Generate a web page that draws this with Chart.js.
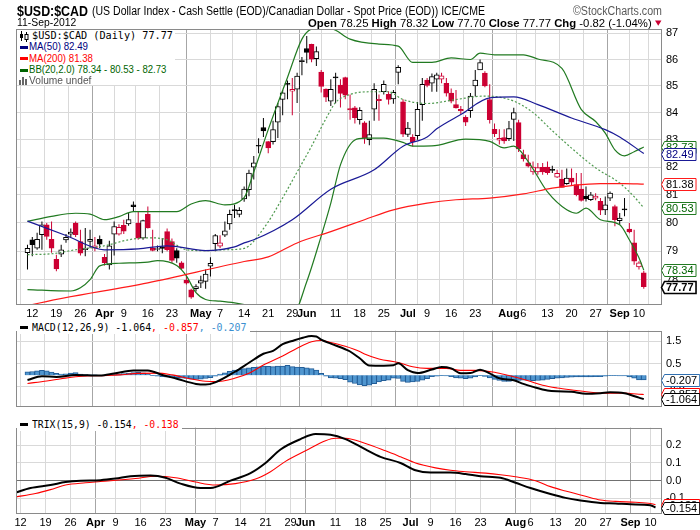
<!DOCTYPE html>
<html>
<head>
<meta charset="utf-8">
<title>$USD:$CAD</title>
<script src="https://cdn.jsdelivr.net/npm/chart.js@4.4.1/dist/chart.umd.min.js"></script>
<style>
html,body{margin:0;padding:0;background:#fff;}
body{position:relative;width:700px;height:530px;overflow:hidden;}
canvas{position:absolute;left:0;}
.t{position:absolute;white-space:nowrap;transform-origin:0 50%;}
.box{position:absolute;background:#fff;}
.dash{position:absolute;height:3px;width:8px;}
</style>
</head>
<body>
<canvas id="cMain" width="700" height="320" style="top:0px"></canvas>
<canvas id="cMacd" width="700" height="97" style="top:320px"></canvas>
<canvas id="cTrix" width="700" height="113" style="top:417px"></canvas>
<script>
// ---------------- DATA ----------------
const dates = [
 'Mar 9','Mar 12','Mar 13','Mar 14','Mar 15','Mar 16','Mar 19','Mar 20','Mar 21','Mar 22','Mar 23','Mar 26','Mar 27','Mar 28','Mar 29','Mar 30',
 'Apr 2','Apr 3','Apr 4','Apr 5','Apr 9','Apr 10','Apr 11','Apr 12','Apr 13','Apr 16','Apr 17','Apr 18','Apr 19','Apr 20','Apr 23','Apr 24','Apr 25','Apr 26','Apr 27','Apr 30',
 'May 1','May 2','May 3','May 4','May 7','May 8','May 9','May 10','May 11','May 14','May 15','May 16','May 17','May 18','May 21','May 22','May 23','May 24','May 25','May 29','May 30','May 31',
 'Jun 1','Jun 4','Jun 5','Jun 6','Jun 7','Jun 8','Jun 11','Jun 12','Jun 13','Jun 14','Jun 15','Jun 18','Jun 19','Jun 20','Jun 21','Jun 22','Jun 25','Jun 26','Jun 27','Jun 28','Jun 29',
 'Jul 2','Jul 3','Jul 5','Jul 6','Jul 9','Jul 10','Jul 11','Jul 12','Jul 13','Jul 16','Jul 17','Jul 18','Jul 19','Jul 20','Jul 23','Jul 24','Jul 25','Jul 26','Jul 27','Jul 30','Jul 31',
 'Aug 1','Aug 2','Aug 3','Aug 6','Aug 7','Aug 8','Aug 9','Aug 10','Aug 13','Aug 14','Aug 15','Aug 16','Aug 17','Aug 20','Aug 21','Aug 22','Aug 23','Aug 24','Aug 27','Aug 28','Aug 29','Aug 30','Aug 31',
 'Sep 4','Sep 5','Sep 6','Sep 7','Sep 10','Sep 11'];

const open = [78.95,79.40,79.11,79.58,79.93,79.42,78.72,78.90,79.40,79.60,79.99,79.34,79.05,79.34,79.11,79.42,
 78.79,78.52,79.60,79.60,79.91,79.96,80.64,79.99,79.46,80.30,79.10,79.06,79.15,79.69,79.34,79.02,78.59,78.00,77.66,77.70,
 77.89,77.95,78.48,79.26,79.18,79.56,79.96,80.46,80.30,80.85,81.18,82.00,82.78,83.45,82.93,82.93,83.65,84.49,85.10,84.80,84.88,85.94,
 86.42,86.58,86.03,85.52,84.88,84.43,85.34,85.03,85.31,84.15,84.18,83.74,83.62,83.00,84.13,84.50,84.78,84.68,84.51,85.51,84.40,
 83.19,83.10,83.15,84.30,85.22,85.10,85.25,85.25,85.10,84.73,84.30,84.12,83.83,84.07,85.00,85.60,85.48,84.49,83.38,82.98,83.08,
 83.04,83.75,83.63,82.45,82.15,81.82,81.82,81.99,82.00,81.92,81.63,81.56,81.40,81.60,81.37,81.20,80.95,80.82,80.88,80.76,80.46,80.88,80.58,
 80.08,80.50,79.78,79.29,78.45,78.25];
const high = [79.23,79.50,79.65,80.05,79.99,80.05,78.88,79.23,79.60,79.80,80.05,79.75,79.82,79.75,79.50,79.55,
 78.90,79.37,80.05,79.95,80.11,80.35,80.76,80.40,80.11,80.58,79.75,79.20,79.46,79.80,79.45,79.10,78.65,78.15,77.70,77.85,
 78.15,78.36,78.79,79.60,79.56,80.05,80.46,80.64,80.55,81.30,81.90,82.40,83.05,83.80,82.95,83.70,84.36,84.85,85.20,85.30,85.50,86.10,
 86.90,86.60,86.50,85.60,84.90,85.25,85.50,85.25,85.35,84.68,84.25,84.20,83.68,83.70,85.10,84.68,85.20,84.80,84.85,85.78,84.50,
 83.65,83.20,84.40,85.30,85.30,85.47,85.50,85.50,85.30,84.90,84.85,84.25,83.90,84.73,85.60,86.00,85.55,85.06,83.60,83.38,83.38,
 83.69,84.18,83.74,82.63,82.45,82.20,82.15,82.15,82.20,82.05,81.90,81.90,81.95,81.95,81.78,81.78,81.30,81.10,81.05,80.88,80.94,81.12,80.64,
 80.35,80.88,79.99,79.75,78.65,78.32];
const low = [78.36,78.82,79.05,79.05,79.40,78.95,78.30,78.80,79.30,79.50,79.50,78.85,78.82,79.10,79.00,79.10,
 78.50,78.36,78.85,79.55,79.60,79.90,80.40,79.40,79.40,79.80,79.00,79.00,78.93,79.00,78.60,78.60,78.35,77.84,77.35,77.60,
 77.72,77.70,78.12,79.00,79.10,79.50,79.75,80.17,80.20,80.75,80.95,81.55,82.50,83.10,82.50,82.82,83.06,83.90,84.50,83.90,84.36,85.40,
 85.86,85.90,85.75,84.75,84.40,84.25,84.35,84.19,84.50,83.74,83.60,83.56,82.85,82.80,83.70,83.70,84.68,84.30,84.33,85.06,83.10,
 83.10,82.75,83.00,83.70,84.95,84.78,84.78,85.10,84.60,84.35,84.15,83.95,83.50,83.81,84.60,85.60,84.95,83.60,83.10,82.82,82.85,
 82.95,82.95,82.55,82.20,81.98,81.72,81.72,81.72,81.72,81.78,81.60,81.26,81.36,81.35,80.95,80.76,80.76,80.78,80.80,80.28,80.28,80.78,79.88,
 79.93,80.23,79.63,78.53,78.36,77.70];
const close = [79.10,79.23,79.42,79.93,79.52,79.11,78.38,79.05,79.49,79.67,79.58,78.93,79.11,79.42,79.19,79.25,
 78.60,79.19,79.87,79.84,79.70,80.11,80.57,79.46,80.08,79.82,79.03,79.08,79.10,79.05,78.68,78.76,78.40,77.89,77.41,77.77,
 77.98,78.20,78.58,79.55,79.29,79.72,80.30,80.43,80.44,81.20,81.78,82.15,82.76,83.32,82.70,83.37,84.23,84.74,85.06,84.87,85.37,85.92,
 86.27,86.01,86.30,84.98,84.58,84.87,85.30,84.72,84.65,84.10,83.81,84.09,83.06,83.19,84.87,84.45,85.06,84.49,84.76,85.70,83.20,
 83.43,82.93,84.12,85.06,85.02,85.35,85.42,85.38,84.73,84.43,84.18,84.06,83.65,84.62,85.22,85.88,85.00,83.74,83.22,83.05,82.95,
 83.41,84.00,82.66,82.30,82.03,82.00,81.98,81.82,81.80,81.88,81.77,81.26,81.60,81.45,81.00,80.80,80.85,81.00,80.95,80.45,80.64,81.06,80.11,
 80.17,80.46,79.68,78.65,78.59,77.77];

// overlays (day index -> value)
const ma50X = [0,8,16,23,29,37,43,45,47,55,63,72,78,83,85,90,96,101,106,113,120,123,128];
const ma50Y = [80.06,79.55,79.05,79.08,79.19,79.02,79.15,79.29,79.40,80.11,81.20,81.90,82.76,83.10,83.40,83.93,84.55,84.59,84.30,83.80,83.37,83.10,82.49];
const ma200X = [0,1,25,45,50,56,63,70,76,83,89,96,103,109,113,119,124,128];
const ma200Y = [77.10,77.15,77.90,78.64,78.80,79.29,79.69,80.11,80.46,80.70,80.82,80.88,81.03,81.24,81.33,81.40,81.40,81.38];
const bbUpperX = [0,5,10,13,16,19,22,27,31,34,37,41,45,47,50,54,57,59,62,64,67,73,77,80,84,88,92,94,97,103,106,111,115,118,120,122,124,126,128];
const bbUpperY = [80.05,80.23,80.34,80.31,80.11,80.22,80.40,80.40,80.40,80.67,80.79,80.64,80.90,81.82,83.37,85.32,86.78,87.17,87.25,87.12,86.78,86.59,86.51,85.89,85.89,86.06,86.00,86.24,86.18,86.18,86.02,85.66,84.12,83.67,83.24,82.63,82.41,82.56,82.73];
const bbMidX = [0,5,10,16,21,25,29,33,37,41,45,49,53,56,59,62,64,67,71,75,78,83,89,95,101,105,109,113,118,123,126,128];
const bbMidY = [78.88,78.91,79.05,79.19,79.40,79.47,79.40,79.05,79.02,79.05,79.10,79.79,80.89,81.82,82.76,83.78,84.38,84.68,84.78,84.78,84.49,84.34,84.49,84.62,84.43,84.00,83.33,82.69,81.97,81.42,80.93,80.53];
const bbLowerX = [0,9,11,13,15,19,25,27,31,33,35,37,40,43,45,48,52,55,58,61,63,65,68,70,74,78,80,84,91,96,99,101,104,108,112,114,116,119,123,125,127,128];
const bbLowerY = [77.67,77.62,77.73,78.01,78.49,78.58,78.62,78.67,78.50,78.14,77.56,77.33,77.27,77.21,77.15,77.00,76.83,76.79,77.94,79.53,80.70,82.08,82.99,83.06,83.06,82.90,82.76,82.77,83.02,82.94,82.70,82.76,82.20,81.10,80.46,80.34,80.52,80.11,79.93,79.40,78.77,78.34];

const macdX = [0,3,6,10,15,18,22,25,28,31,35,37,39,43,46,49,51,53,55,57,59,60,61,63,66,67,69,71,74,76,77,79,81,84,86,88,90,92,94,96,98,101,103,105,108,110,113,116,119,121,124,125,127,128];
const macdY = [-0.22,-0.05,-0.08,0.01,-0.02,0.07,0.21,0.21,0.01,-0.16,-0.39,-0.42,-0.32,0.14,0.55,0.95,1.08,1.38,1.52,1.65,1.74,1.72,1.58,1.40,1.15,1.05,0.75,0.43,0.42,0.44,0.53,0.22,0.09,0.25,0.36,0.30,0.08,0.09,0.24,0.08,-0.14,-0.23,-0.39,-0.52,-0.68,-0.72,-0.74,-0.83,-0.80,-0.76,-0.80,-0.86,-1.00,-1.064];
const signalX = [0,4,7,10,15,19,23,27,30,34,37,39,43,46,49,53,56,59,61,63,66,69,70,73,77,80,83,87,90,93,97,100,104,107,110,114,117,120,124,127,128];
const signalY = [-0.37,-0.26,-0.16,-0.07,-0.02,0.01,0.08,0.09,0.01,-0.17,-0.27,-0.29,-0.14,0.08,0.45,0.85,1.20,1.48,1.54,1.45,1.28,1.05,0.94,0.72,0.56,0.37,0.30,0.30,0.21,0.21,0.13,-0.02,-0.25,-0.45,-0.57,-0.68,-0.76,-0.80,-0.80,-0.85,-0.857];
const macdHist = [0.15,0.16,0.19,0.21,0.19,0.14,0.08,0.05,0.06,0.09,0.11,0.05,0.02,0.01,0.01,0.00,-0.01,0.00,0.02,0.05,
 0.07,0.09,0.11,0.12,0.10,0.06,-0.02,-0.05,-0.07,-0.09,-0.10,-0.12,-0.14,-0.15,-0.18,-0.19,-0.18,-0.15,-0.11,-0.05,
 0.05,0.10,0.17,0.22,0.26,0.29,0.32,0.35,0.37,0.40,0.39,0.38,0.40,0.40,0.44,0.38,0.36,0.35,0.33,0.29,0.22,0.08,-0.05,-0.12,-0.14,-0.16,-0.20,
 -0.31,-0.37,-0.43,-0.47,-0.45,-0.38,-0.30,-0.25,-0.22,-0.13,-0.15,-0.28,-0.32,-0.30,-0.28,-0.22,-0.16,
 -0.07,-0.05,-0.02,-0.03,-0.07,-0.12,-0.14,-0.16,-0.13,-0.08,-0.02,-0.06,-0.12,-0.19,-0.24,-0.28,-0.28,-0.25,-0.23,-0.22,
 -0.23,-0.25,-0.24,-0.22,-0.19,-0.16,-0.14,-0.12,-0.10,-0.09,-0.08,-0.08,-0.08,-0.08,-0.07,-0.07,-0.05,-0.02,-0.02,-0.03,
 -0.03,-0.08,-0.14,-0.21,-0.207];

const trixX = [0,3,7,10,13,17,20,23,27,30,33,37,39,43,47,50,53,57,60,63,66,70,73,77,80,83,87,90,93,97,100,103,107,110,113,117,120,123,127,128];
const trixY = [-0.069,-0.043,-0.026,-0.009,-0.001,0.002,0.011,0.024,0.028,0.016,-0.018,-0.043,-0.043,-0.001,0.042,0.100,0.177,0.236,0.265,0.261,0.236,0.177,0.135,0.100,0.058,0.045,0.045,0.037,0.024,0.016,-0.013,-0.043,-0.077,-0.099,-0.114,-0.128,-0.131,-0.136,-0.141,-0.154];
const trixSigX = [0,4,7,10,14,17,24,28,32,36,40,44,48,51,54,58,62,64,66,70,74,77,80,84,87,90,94,97,100,104,107,110,114,117,120,124,127,128];
const trixSigY = [-0.094,-0.074,-0.052,-0.026,-0.013,-0.006,0.011,0.024,0.016,-0.009,-0.026,-0.018,0.008,0.050,0.109,0.169,0.227,0.241,0.241,0.211,0.169,0.135,0.100,0.072,0.058,0.050,0.042,0.033,0.021,-0.001,-0.035,-0.060,-0.090,-0.111,-0.119,-0.124,-0.131,-0.138];

// axis ticks
const tickIdx  = [1,6,11,16,20,25,30,36,40,45,50,55,58,64,69,74,79,83,88,93,100,103,108,113,118,123,127];
const tickText = ['12','19','26','Apr','9','16','23','May','7','14','21','29','Jun','11','18','25','Jul','9','16','23','Aug','6','13','20','27','Sep','10'];
const monthNames = ['Apr','May','Jun','Jul','Aug','Sep'];
const priceTicks = [78,79,80,81,82,83,84,85,86,87];
const macdTicks = [1.5,1.0,0.5,0.0,-0.5,-1.0];
const trixTicks = [0.2,0.1,0.0,-0.1];

// ---------------- HELPERS ----------------
Chart.defaults.font.family = '"Liberation Sans", Arial, sans-serif';
const X_MIN = 0.1, X_MAX = 129.3;
const idx = close.map((_, i) => i);
const UP = '#000000', DN = '#cc0033';
const candleCol = close.map((c, i) => (i === 0 || c >= close[i - 1]) ? UP : DN);
const hollow = close.map((c, i) => c > open[i]);
const pts = (xs, ys) => xs.map((x, k) => ({x: x, y: ys[k]}));
const monthIdx = new Set(tickIdx.filter((v, k) => monthNames.includes(tickText[k])));
const LIGHT = '#d9d9d9', MONTH = '#a6a6a6';

function xAxis(h) {
  return {
    type: 'linear', min: X_MIN, max: X_MAX, bounds: 'data',
    afterBuildTicks: s => { s.ticks = tickIdx.map(v => ({value: v})); },
    afterFit: s => { s.height = h; },
    border: {display: false},
    grid: {drawTicks: false, lineWidth: 1, color: c => (c.tick && monthIdx.has(c.tick.value)) ? MONTH : LIGHT},
    ticks: {
      display: h > 0, autoSkip: false, maxRotation: 0, minRotation: 0, padding: 2, color: '#000',
      font: c => ({family: '"Liberation Sans", Arial, sans-serif', size: 11,
                   weight: (c.tick && monthIdx.has(c.tick.value)) ? 'bold' : 'normal'}),
      callback: v => { const k = tickIdx.indexOf(v); return k >= 0 ? tickText[k] : ''; }
    }
  };
}
function yAxis(type, mn, mx, ticks, fmt, gridColor) {
  return {
    type: type, position: 'right', min: mn, max: mx, bounds: 'data',
    afterBuildTicks: s => { s.ticks = ticks.map(v => ({value: v})); },
    afterFit: s => { s.width = 38; },
    border: {display: false},
    grid: {drawTicks: false, lineWidth: 1, color: gridColor || LIGHT},
    ticks: {padding: 4, color: '#000', font: {size: 11}, callback: fmt}
  };
}
const framePlugin = {
  id: 'frame',
  afterDraw(chart) {
    const a = chart.chartArea, c = chart.ctx;
    c.save(); c.strokeStyle = '#8a8a8a'; c.lineWidth = 1;
    c.strokeRect(Math.round(a.left) + 0.5, Math.round(a.top) + 0.5, Math.round(a.right - a.left) - 1, Math.round(a.bottom - a.top) - 1);
    c.restore();
  }
};
function tagPlugin(items) {
  return {
    id: 'tags',
    afterDraw(chart) {
      const c = chart.ctx, ys = chart.scales.y, x0 = Math.round(chart.chartArea.right) - 0.5;
      items.forEach(it => {
        const y = Math.round(ys.getPixelForValue(it.v)) + 0.5;
        c.save();
        c.font = (it.bold ? 'bold ' : '') + '11px "Liberation Sans", Arial, sans-serif';
        const tw = c.measureText(it.t).width;
        const h = 12, tip = 3, R = x0 + tip + tw + 4;
        c.beginPath();
        c.moveTo(x0, y); c.lineTo(x0 + tip, y - h / 2); c.lineTo(R, y - h / 2);
        c.lineTo(R, y + h / 2); c.lineTo(x0 + tip, y + h / 2); c.closePath();
        c.fillStyle = '#fff'; c.fill();
        c.lineWidth = it.lw || 1; c.strokeStyle = it.c; c.stroke();
        c.fillStyle = it.tc || it.c; c.textAlign = 'left'; c.textBaseline = 'middle';
        c.fillText(it.t, x0 + tip + 1.5, y + 0.5);
        c.restore();
      });
    }
  };
}
const lineDs = (label, xs, ys, color, width, extra) => Object.assign({
  type: 'line', label: label, data: pts(xs, ys), borderColor: color, borderWidth: width,
  pointRadius: 0, fill: false, cubicInterpolationMode: 'monotone', order: 0
}, extra || {});
const baseOpts = (padTop) => ({
  responsive: false, animation: false, events: [],
  layout: {padding: {left: 16, top: padTop, right: 0, bottom: 0}},
  plugins: {legend: {display: false}, tooltip: {enabled: false}}
});

// ---------------- MAIN PRICE CHART ----------------
const mainOpts = baseOpts(29);
mainOpts.scales = {
  x: xAxis(15),
  y: yAxis('logarithmic', 77.14, 87.17, priceTicks, v => String(v))
};
new Chart(document.getElementById('cMain'), {
  data: {datasets: [
    lineDs('MA(50)', ma50X, ma50Y, '#1a1a96', 1.2),
    lineDs('MA(200)', ma200X, ma200Y, '#ff1a1a', 1.2),
    lineDs('BB upper', bbUpperX, bbUpperY, '#217a21', 1.2),
    lineDs('BB mid', bbMidX, bbMidY, '#4f9a4f', 1.2, {borderDash: [2, 2]}),
    lineDs('BB lower', bbLowerX, bbLowerY, '#217a21', 1.2),
    {type: 'bar', label: 'body',
     data: idx.map(i => ({x: i, y: [Math.min(open[i], close[i]), Math.max(open[i], close[i])]})),
     backgroundColor: idx.map(i => hollow[i] ? '#ffffff' : candleCol[i]),
     borderColor: candleCol, borderWidth: 1, borderSkipped: false,
     barThickness: 5, minBarLength: 1, grouped: false, order: 1},
    {type: 'bar', label: 'wick',
     data: idx.map(i => ({x: i, y: [low[i], high[i]]})),
     backgroundColor: candleCol, borderWidth: 0, barThickness: 1, inflateAmount: 0,
     grouped: false, order: 2}
  ]},
  options: mainOpts,
  plugins: [framePlugin, tagPlugin([
    {v: bbUpperY[bbUpperY.length - 1], t: bbUpperY[bbUpperY.length - 1].toFixed(2), c: '#217a21', tc: '#006400'},
    {v: ma50Y[ma50Y.length - 1], t: ma50Y[ma50Y.length - 1].toFixed(2), c: '#1a1a96', tc: '#000080'},
    {v: ma200Y[ma200Y.length - 1], t: ma200Y[ma200Y.length - 1].toFixed(2), c: '#ff1a1a', tc: '#000'},
    {v: bbMidY[bbMidY.length - 1], t: bbMidY[bbMidY.length - 1].toFixed(2), c: '#217a21', tc: '#006400'},
    {v: bbLowerY[bbLowerY.length - 1], t: bbLowerY[bbLowerY.length - 1].toFixed(2), c: '#217a21', tc: '#006400'},
    {v: close[close.length - 1], t: close[close.length - 1].toFixed(2), c: '#000', tc: '#000', bold: true, lw: 1.6}
  ])]
});

// ---------------- MACD ----------------
const macdOpts = baseOpts(0);
macdOpts.scales = {
  x: xAxis(0),
  y: yAxis('linear', -1.389, 1.979, macdTicks, v => v.toFixed(1))
};
new Chart(document.getElementById('cMacd'), {
  data: {datasets: [
    lineDs('MACD', macdX, macdY, '#000000', 2),
    lineDs('Signal', signalX, signalY, '#ff0000', 1.1),
    {type: 'bar', label: 'Histogram', data: idx.map(i => ({x: i, y: macdHist[i]})),
     backgroundColor: '#5096cf', borderColor: '#225d97', borderWidth: 1,
     barThickness: 5, grouped: false, order: 2}
  ]},
  options: macdOpts,
  plugins: [framePlugin, tagPlugin([
    {v: macdHist[macdHist.length - 1], t: macdHist[macdHist.length - 1].toFixed(3), c: '#2f6fb0', tc: '#000'},
    {v: signalY[signalY.length - 1], t: signalY[signalY.length - 1].toFixed(3), c: '#ff0000', tc: '#000'},
    {v: macdY[macdY.length - 1], t: macdY[macdY.length - 1].toFixed(3), c: '#000', tc: '#000'}
  ])]
});

// ---------------- TRIX ----------------
const trixOpts = baseOpts(0);
trixOpts.scales = {
  x: xAxis(16),
  y: yAxis('linear', -0.191, 0.3015, trixTicks, v => v.toFixed(1),
           c => (c.tick && c.tick.value === 0) ? '#707070' : LIGHT)
};
new Chart(document.getElementById('cTrix'), {
  data: {datasets: [
    lineDs('TRIX', trixX, trixY, '#000000', 2),
    lineDs('Signal', trixSigX, trixSigY, '#ff0000', 1.1)
  ]},
  options: trixOpts,
  plugins: [framePlugin, tagPlugin([
    {v: trixSigY[trixSigY.length - 1], t: trixSigY[trixSigY.length - 1].toFixed(3), c: '#ff0000', tc: '#000'},
    {v: trixY[trixY.length - 1], t: trixY[trixY.length - 1].toFixed(3), c: '#000', tc: '#000'}
  ])]
});

// ---------------- TEXT OVERLAYS ----------------
function box(x, y, w, h) {
  const d = document.createElement('div'); d.className = 'box';
  Object.assign(d.style, {left: x + 'px', top: y + 'px', width: w + 'px', height: h + 'px'});
  document.body.appendChild(d);
}
function dash(x, y, color) {
  const d = document.createElement('div'); d.className = 'dash';
  Object.assign(d.style, {left: x + 'px', top: y + 'px', background: color});
  document.body.appendChild(d);
}
function txt(parts, x, cy, size, family, target) {
  const d = document.createElement('div'); d.className = 't';
  d.style.left = x + 'px'; d.style.top = (cy - size / 2) + 'px';
  d.style.fontSize = size + 'px'; d.style.lineHeight = size + 'px'; d.style.fontFamily = family;
  parts.forEach(p => {
    const s = document.createElement('span'); s.textContent = p[0];
    s.style.color = p[1] || '#000'; if (p[2]) s.style.fontWeight = 'bold';
    d.appendChild(s);
  });
  document.body.appendChild(d);
  if (target) { const w = d.getBoundingClientRect().width; if (w > 0) d.style.transform = 'scaleX(' + (target / w) + ')'; }
  return d;
}
const SANS = '"Liberation Sans", Arial, sans-serif';
const MONO = '"DejaVu Sans Mono", monospace';

// header
txt([['$USD:$CAD', '#000', true]], 17, 10, 15, SANS, 71);
txt([['(US Dollar Index - Cash Settle (EOD)/Canadian Dollar - Spot Price (EOD))  ICE/CME']], 91.7, 10.5, 12, SANS, 393);
txt([['\u00A9StockCharts.com', '#5a5a5a']], 572.7, 10.5, 12, SANS, 89);
txt([['11-Sep-2012']], 16.7, 23.3, 10, SANS, 59.3);
txt([['Open', '#000', true], [' 78.25  '], ['High', '#000', true], [' 78.32  '], ['Low', '#000', true], [' 77.70  '],
     ['Close', '#000', true], [' 77.77  '], ['Chg', '#000', true], [' -0.82 (-1.04%)']], 308, 23.3, 11, SANS, 343.7);
txt([['\u25BC', '#cc0033']], 655, 23.8, 7, '"DejaVu Sans", sans-serif', 6.5);

// main legend
box(17, 30, 158, 55);
(function () {
  const ns = 'http://www.w3.org/2000/svg';
  const svg = document.createElementNS(ns, 'svg');
  svg.setAttribute('width', '10'); svg.setAttribute('height', '11');
  svg.style.position = 'absolute'; svg.style.left = '19px'; svg.style.top = '31px';
  svg.innerHTML = '<line x1="2.5" y1="0" x2="2.5" y2="10" stroke="#000"/><rect x="1" y="3" width="3" height="4" fill="#000"/>' +
                  '<line x1="7.5" y1="1" x2="7.5" y2="11" stroke="#000"/><rect x="6" y="3.5" width="3" height="5" fill="#fff" stroke="#000"/>';
  document.body.appendChild(svg);
  const v = document.createElementNS(ns, 'svg');
  v.setAttribute('width', '10'); v.setAttribute('height', '9');
  v.style.position = 'absolute'; v.style.left = '19px'; v.style.top = '76px';
  v.innerHTML = '<rect x="0" y="4" width="2" height="5" fill="#666"/><rect x="3" y="1" width="2" height="8" fill="#666"/><rect x="6" y="3" width="2" height="6" fill="#666"/>';
  document.body.appendChild(v);
})();
txt([['$USD:$CAD (Daily) 77.77']], 31.7, 36, 10, MONO, 141);
dash(20, 46, '#000080'); txt([['MA(50) 82.49', '#000080']], 29.3, 47.3, 10, SANS, 59);
dash(20, 57, '#ff0000'); txt([['MA(200) 81.38', '#ff0000']], 29.3, 58.5, 10, SANS, 64);
dash(20, 68.5, '#006400'); txt([['BB(20,2.0) 78.34 - 80.53 - 82.73', '#006400']], 29.3, 70, 10, SANS, 137.4);
txt([['Volume undef', '#555']], 29.3, 80.5, 10, SANS, 62.4);

// MACD legend
box(17, 321, 233, 13);
dash(20, 326, '#000');
txt([['MACD(12,26,9) -1.064'], [', -0.857', '#ff0000'], [', -0.207', '#3b8fd0']], 32.3, 327.5, 10, MONO, 214.4);

// TRIX legend
box(17, 418, 165, 13);
dash(20, 423, '#000');
txt([['TRIX(15,9) -0.154'], [', -0.138', '#ff0000']], 31.7, 424.5, 10, MONO, 146.6);
</script>
</body>
</html>
